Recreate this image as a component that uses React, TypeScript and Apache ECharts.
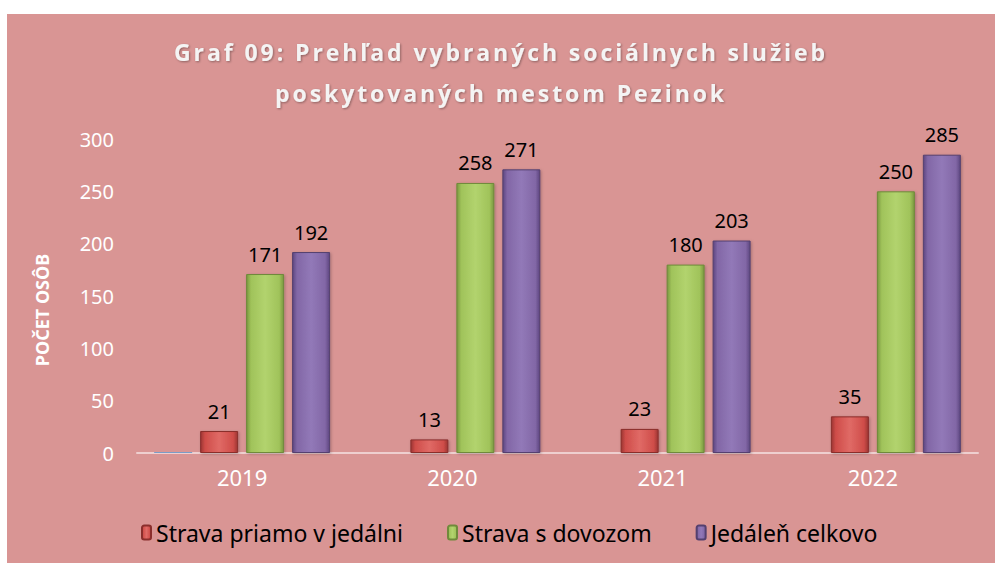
import React, { useEffect, useRef } from "react";
import * as echarts from "echarts";

const categories = ["2019", "2020", "2021", "2022"];
const seriesNames = ["Strava priamo v jedálni", "Strava s dovozom", "Jedáleň celkovo"];
const hiddenValues = [1, null, null, null];
const stravaPriamo = [21, 13, 23, 35];
const stravaDovoz = [171, 258, 180, 250];
const jedalenCelkovo = [192, 271, 203, 285];
const yTicks = { min: 0, max: 300, interval: 50 };
const titleLines = ["Graf 09: Prehľad vybraných sociálnych služieb", "poskytovaných mestom Pezinok"];

const grad = (dark: string, light: string, mid: string) =>
  new echarts.graphic.LinearGradient(0, 0, 1, 0, [
    { offset: 0, color: dark },
    { offset: 0.12, color: mid },
    { offset: 0.5, color: light },
    { offset: 0.88, color: mid },
    { offset: 1, color: dark },
  ]);

export default function App() {
  const ref = useRef<HTMLDivElement>(null);
  useEffect(() => {
    if (!ref.current) return;
    const chart = echarts.init(ref.current, null, { renderer: "svg" });
    const labelStyle = {
      show: true,
      position: "top" as const,
      distance: 10,
      color: "#000",
      fontSize: 20,
      fontFamily: "Noto Sans",
    };
    const bar = (dark: string, light: string, mid: string, border: string) => ({
      color: grad(dark, light, mid),
      borderColor: border,
      borderWidth: 1,
      shadowColor: "rgba(0,0,0,0.25)",
      shadowBlur: 3,
      shadowOffsetX: 1,
      shadowOffsetY: 1,
    });
    chart.setOption({
      animation: false,
      backgroundColor: "#d99594",
      title: {
        text: titleLines.join("\n"),
        left: "center",
        top: 12,
        textStyle: {
          color: "#f4f4f4",
          fontSize: 23,
          fontWeight: "bold",
          fontFamily: "Open Sans",
          lineHeight: 41,
          textShadowColor: "rgba(0,0,0,0.35)",
          textShadowBlur: 2,
          textShadowOffsetX: 1,
          textShadowOffsetY: 1,
        },
      },
      legend: {
        data: seriesNames,
        bottom: 14,
        left: 129,
        itemWidth: 9,
        itemHeight: 14,
        itemGap: 44,
        textStyle: { color: "#000", fontSize: 23, fontFamily: "Noto Sans" },
      },
      grid: { left: 130, right: 17, top: 125, bottom: 110 },
      xAxis: {
        type: "category",
        data: categories,
        axisLine: { lineStyle: { color: "rgba(255,255,255,0.55)", width: 2 } },
        axisTick: { show: false },
        axisLabel: { color: "#fff", fontSize: 22, fontFamily: "Noto Sans", margin: 13 },
      },
      yAxis: {
        type: "value",
        min: yTicks.min,
        max: yTicks.max,
        interval: yTicks.interval,
        name: "POČET OSÔB",
        nameLocation: "middle",
        nameGap: 86,
        nameRotate: 90,
        nameTextStyle: { color: "#fff", fontSize: 18, fontWeight: "bold", fontFamily: "Noto Sans", padding: [0, 0, 0, -28] },
        axisLine: { show: false },
        axisTick: { show: false },
        splitLine: { show: false },
        axisLabel: { color: "#fff", fontSize: 20, fontFamily: "Noto Sans", margin: 23 },
      },
      series: [
        {
          name: "hidden",
          type: "bar",
          data: hiddenValues,
          barWidth: 38,
          barGap: "21%",
          barCategoryGap: "16%",
          itemStyle: { color: "#7a9cc6" },
        },
        {
          name: seriesNames[0],
          type: "bar",
          data: stravaPriamo,
          barWidth: 38,
          barGap: "21%",
          label: labelStyle,
          itemStyle: bar("#9c3532", "#e06a66", "#cf4d49", "#8a2e2c"),
        },
        {
          name: seriesNames[1],
          type: "bar",
          data: stravaDovoz,
          barWidth: 38,
          barGap: "21%",
          label: labelStyle,
          itemStyle: bar("#7a9740", "#b2d36e", "#a0c35a", "#6f8a3b"),
        },
        {
          name: seriesNames[2],
          type: "bar",
          data: jedalenCelkovo,
          barWidth: 38,
          barGap: "21%",
          label: labelStyle,
          itemStyle: bar("#5d4680", "#9279b8", "#8267a6", "#54406f"),
        },
      ],
    });
    // widen the title with letter spacing, as in the reference
    try {
      const texts = Array.from(ref.current.querySelectorAll("text")) as SVGTextElement[];
      const t1 = texts.find((t) => t.textContent === titleLines[0]);
      const t2 = texts.find((t) => t.textContent === titleLines[1]);
      if (t1) {
        const w = t1.getComputedTextLength();
        const ls = Math.max(0, Math.min(3, (654 - w) / titleLines[0].length));
        [t1, t2].forEach((t) => {
          if (t) {
            t.style.letterSpacing = ls + "px";
          }
        });
      }
    } catch (e) {}
    return () => chart.dispose();
  }, []);
  return (
    <div
      ref={ref}
      style={{ position: "absolute", left: 7, top: 14, width: 988, height: 549 }}
    />
  );
}
